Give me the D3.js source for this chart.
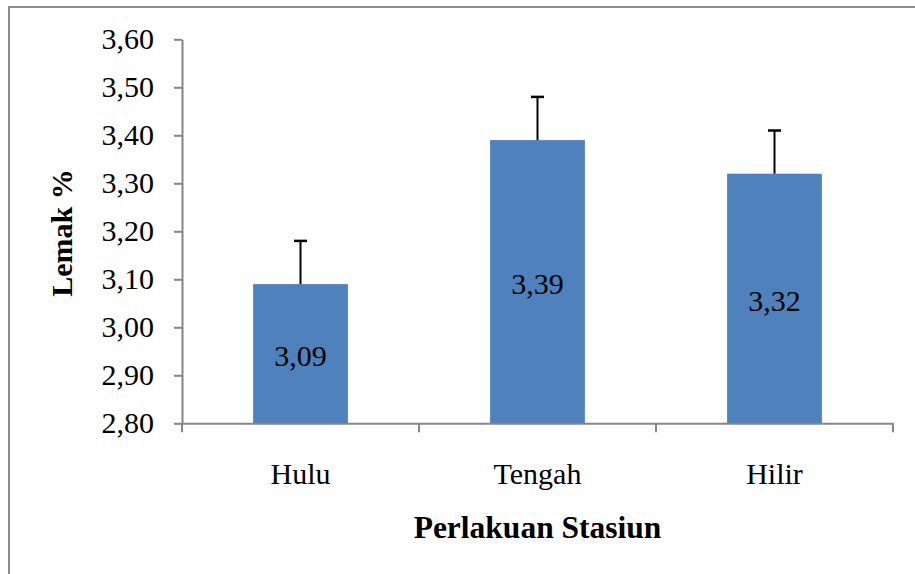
<!DOCTYPE html>
<html>
<head>
<meta charset="utf-8">
<script src="https://cdn.jsdelivr.net/npm/d3@7"></script>
<style>
  body { margin: 0; background: #fff; }
  text { font-family: 'Liberation Serif', 'Times New Roman', serif; fill: #000; }
</style>
</head>
<body>
<div class="chart-container"></div>
<script>
const w = 915,
      h = 574;

// data
const categories = ['Hulu', 'Tengah', 'Hilir'];
const values = [3.09, 3.39, 3.32];
const errors = [0.09, 0.09, 0.09];
const yTicks = [2.80, 2.90, 3.00, 3.10, 3.20, 3.30, 3.40, 3.50, 3.60];

const axisColor = '#868686';
const barColor = '#4f81bd';
const serif = "'Liberation Serif', 'Times New Roman', serif";

const svg = d3
  .select('.chart-container')
  .append('svg')
  .attr('width', w)
  .attr('height', h);

// outer frame
svg.append('rect')
  .attr('x', 9)
  .attr('y', 7)
  .attr('width', w)
  .attr('height', h)
  .attr('fill', 'none')
  .attr('stroke', '#8c8c8c')
  .attr('stroke-width', 2);

const plotLeft = 182, plotRight = 893, plotTop = 39.3, plotBottom = 423.3;

const xScale = d3.scaleBand()
  .domain(categories)
  .range([plotLeft, plotRight])
  .paddingInner(0.6)
  .paddingOuter(0.3);

const yScale = d3.scaleLinear()
  .domain([2.8, 3.6])
  .range([plotBottom, plotTop]);

const fmt = d => d3.format('.2f')(d).replace('.', ',');

// y axis
const yAxis = d3.axisLeft(yScale)
  .tickValues(yTicks)
  .tickSizeInner(8)
  .tickSizeOuter(0)
  .tickPadding(20)
  .tickFormat(fmt);

const gy = svg.append('g')
  .attr('transform', `translate(${plotLeft}, 0)`)
  .call(yAxis)
  .attr('font-family', serif)
  .attr('font-size', 30);
gy.selectAll('path, line').attr('stroke', axisColor).attr('stroke-width', 2);
gy.selectAll('text').attr('fill', '#000');

// bars
svg.selectAll('.bar')
  .data(values)
  .enter()
  .append('rect')
  .attr('class', 'bar')
  .attr('x', (d, i) => xScale(categories[i]))
  .attr('y', d => yScale(d))
  .attr('width', xScale.bandwidth())
  .attr('height', d => yScale(2.8) - yScale(d))
  .attr('fill', barColor);

// error bars (upper only)
const err = svg.selectAll('.err')
  .data(values)
  .enter()
  .append('g')
  .attr('class', 'err')
  .attr('transform', (d, i) => `translate(${xScale(categories[i]) + xScale.bandwidth() / 2}, 0)`);

err.append('line')
  .attr('y1', d => yScale(d))
  .attr('y2', (d, i) => yScale(d + errors[i]))
  .attr('stroke', '#000')
  .attr('stroke-width', 2);

err.append('line')
  .attr('x1', -6.5)
  .attr('x2', 6.5)
  .attr('y1', (d, i) => yScale(d + errors[i]))
  .attr('y2', (d, i) => yScale(d + errors[i]))
  .attr('stroke', '#000')
  .attr('stroke-width', 2.5);

// value labels
svg.selectAll('.val')
  .data(values)
  .enter()
  .append('text')
  .attr('class', 'val')
  .attr('x', (d, i) => xScale(categories[i]) + xScale.bandwidth() / 2)
  .attr('y', d => (yScale(d) + yScale(2.8)) / 2)
  .attr('dy', '0.4em')
  .attr('text-anchor', 'middle')
  .style('font-size', '30px')
  .text(fmt);

// x axis
const xAxis = d3.axisBottom(xScale)
  .tickSizeInner(0)
  .tickSizeOuter(0)
  .tickPadding(39);

const gx = svg.append('g')
  .attr('transform', `translate(0, ${plotBottom})`)
  .call(xAxis)
  .attr('font-family', serif)
  .attr('font-size', 30);
gx.selectAll('path').attr('stroke', axisColor).attr('stroke-width', 2);
gx.selectAll('text').attr('fill', '#000');

// category boundary ticks
const step = xScale.step();
gx.selectAll('.bound')
  .data(d3.range(categories.length + 1))
  .enter()
  .append('line')
  .attr('class', 'bound')
  .attr('x1', i => plotLeft + i * step)
  .attr('x2', i => plotLeft + i * step)
  .attr('y1', 0)
  .attr('y2', 9)
  .attr('stroke', axisColor)
  .attr('stroke-width', 2);

// axis titles
svg.append('text')
  .attr('x', (plotLeft + plotRight) / 2)
  .attr('y', 538)
  .attr('text-anchor', 'middle')
  .style('font-size', '31.5px')
  .style('font-weight', 'bold')
  .text('Perlakuan Stasiun');

svg.append('text')
  .attr('transform', 'translate(72, 233) rotate(-90)')
  .attr('text-anchor', 'middle')
  .style('font-size', '30px')
  .style('font-weight', 'bold')
  .text('Lemak %');
</script>
</body>
</html>
